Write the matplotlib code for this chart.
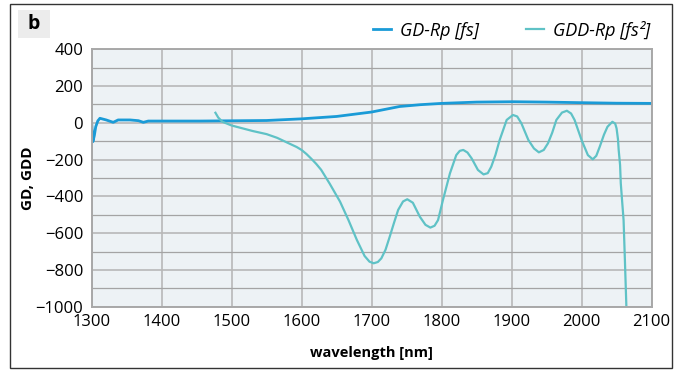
import numpy as np
import matplotlib.pyplot as plt
from matplotlib.patches import Rectangle

plt.rcParams['font.family'] = ['Open Sans', 'DejaVu Sans']

# GD-Rp [fs]
gd_wl = [1300, 1302, 1304, 1306, 1309, 1312, 1321, 1331, 1338, 1355, 1367, 1374, 1381, 1398,
         1455, 1550, 1600, 1650, 1700, 1712, 1740, 1770, 1800, 1850, 1902, 1950, 1997,
         2050, 2100]
gd_val = [11, -103, -70, -22, 10, 24, 15, 2, 15, 15, 11, 2, 9, 9,
          9, 12, 21, 34, 58, 67, 88, 98, 105, 112, 114, 112, 109,
          106, 105]

# GDD-Rp [fs^2]
gdd_wl = [1477, 1481, 1487, 1500, 1515, 1530, 1550, 1565, 1584, 1593, 1600, 1607,
          1614, 1621, 1628, 1640, 1655, 1667, 1679, 1690, 1697, 1703, 1709, 1714,
          1720, 1726, 1732, 1738, 1745, 1751, 1759, 1769, 1777, 1784, 1790, 1795,
          1802, 1812, 1821, 1826, 1831, 1837, 1843, 1852, 1860, 1866, 1871, 1877,
          1883, 1893, 1902, 1908, 1914, 1924, 1932, 1939, 1946, 1952, 1958, 1964,
          1972, 1979, 1985, 1990, 2000, 2009, 2016, 2021, 2026, 2032, 2037, 2044,
          2048, 2050, 2052, 2053, 2055, 2056, 2058, 2060, 2062, 2064]
gdd_val = [54, 28, 5, -15, -30, -45, -62, -82, -116, -132, -148, -170,
           -196, -224, -256, -330, -429, -529, -637, -724, -755, -764, -757, -737,
           -690, -619, -545, -474, -428, -416, -435, -511, -555, -570, -560, -529,
           -420, -275, -176, -153, -148, -162, -194, -257, -281, -274, -239, -175,
           -94, 15, 42, 34, -3, -94, -140, -161, -148, -112, -55, 15,
           55, 65, 50, 15, -94, -176, -199, -180, -130, -65, -22, 5,
           -5, -31, -90, -148, -230, -329, -430, -529, -760, -1000]

xticks = np.arange(1300, 2101, 100)
yticks = np.arange(-1000, 401, 200)

gd_color = '#1a9bd7'
gdd_color = '#5fc2c6'

fig = plt.figure(figsize=(6.83, 3.72), dpi=100)
ax = fig.add_axes([0.134, 0.1755, 0.820, 0.6925])

ax.set_facecolor('#edf2f5')
ax.plot(gd_wl, gd_val, color=gd_color, lw=2.0, label='GD-Rp [fs]')
ax.plot(gdd_wl, gdd_val, color=gdd_color, lw=1.6, label='GDD-Rp [fs²]')

ax.set_xlim(1300, 2100)
ax.set_ylim(-1000, 400)
ax.set_xticks(xticks)
ax.set_yticks(yticks)
ax.set_yticks(np.arange(-900, 400, 200), minor=True)
ax.grid(True, which='major', color='#b8b8b8', lw=1.2)
ax.grid(True, which='minor', axis='y', color='#a4a4a4', lw=0.9)
ax.set_axisbelow(True)
ax.tick_params(which='both', length=0, labelsize=12)
ax.tick_params(axis='x', pad=5)
ax.tick_params(axis='y', pad=6)
for s in ax.spines.values():
    s.set_color('#a8a8a8')
    s.set_linewidth(1.4)

ax.set_xlabel('wavelength [nm]', fontsize=10.5, fontweight='bold')
ax.set_ylabel('GD, GDD', fontsize=11, fontweight='bold')
ax.xaxis.set_label_coords(0.5, -0.1526)
ax.yaxis.set_label_coords(-0.101, 0.5)

leg = ax.legend(loc='center right', bbox_to_anchor=(1.014, 1.074), ncol=2, frameon=False,
                prop={'style': 'italic', 'size': 13}, handlelength=1.0, borderpad=0,
                columnspacing=2.6, handletextpad=0.5)

# outer frame and panel letter
fig.patches.append(Rectangle((10 / 683, 4 / 372), 662 / 683, 364 / 372,
                             transform=fig.transFigure, fill=False,
                             edgecolor='#333333', lw=1.0))
fig.patches.append(Rectangle((18 / 683, 334 / 372), 32 / 683, 28 / 372,
                             transform=fig.transFigure, facecolor='#ececec',
                             edgecolor='none'))
fig.text(34 / 683, 348 / 372, 'b', fontsize=14, fontweight='bold',
         ha='center', va='center')

fig.savefig('out.png', dpi=100)
